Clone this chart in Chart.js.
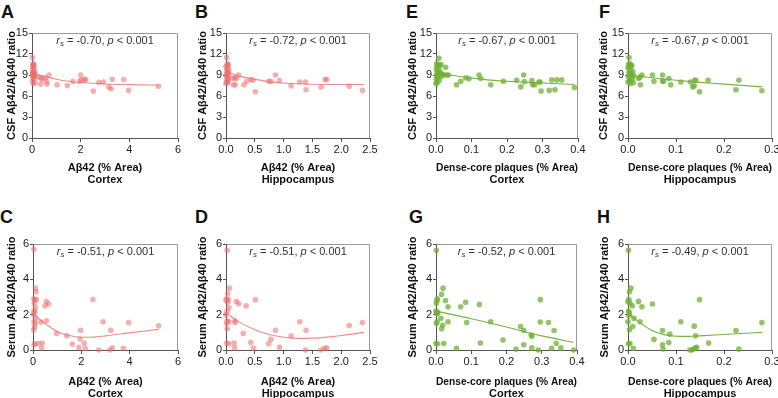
<!DOCTYPE html>
<html>
<head>
<meta charset="utf-8">
<script src="https://cdn.jsdelivr.net/npm/chart.js@4.4.0/dist/chart.umd.min.js"></script>
<style>
  body { margin: 0; background: #fff; }
  #fig { position: relative; width: 778px; height: 398px; overflow: hidden; font-family: "Liberation Sans", Arial, sans-serif; }
  #fig canvas { position: absolute; }
  .tag { position: absolute; font-weight: bold; font-size: 18px; line-height: 18px; color: #111; }
</style>
</head>
<body>
<div id="fig"></div>
<script>
// ---- data ----
const xA = [0.02,0.05,0.03,0.06,0.08,0.04,0.10,0.02,0.07,0.12,0.05,0.03,0.09,0.01,0.06,0.11,0.04,0.08,0.02,0.13,0.05,
  0.25,0.38,0.41,0.36,0.55,0.59,0.62,0.70,1.03,1.45,1.68,1.96,2.00,2.03,2.16,2.20,2.52,2.75,2.93,3.16,3.25,3.30,3.77,3.97,5.20];
const yA = [11.5,10.6,10.4,10.3,10.5,10.1,9.9,9.7,9.5,9.4,9.3,9.2,9.1,9.0,8.9,8.8,8.7,8.5,8.2,7.9,7.8,
  8.7,8.6,8.4,7.7,8.6,8.1,7.7,9.0,7.6,7.5,8.1,8.1,9.0,8.3,8.35,8.35,6.7,7.95,8.0,7.3,7.0,8.4,8.35,6.8,7.4];
const fitXA = [0, 0.25, 0.5, 1, 1.5, 2, 3, 4, 5.2];
const fitYA = [9.35, 9.05, 8.8, 8.4, 8.1, 7.92, 7.72, 7.62, 7.56];

const xB = [0.01,0.03,0.02,0.04,0.00,0.02,0.05,0.01,0.03,0.04,0.02,0.00,0.05,0.01,0.03,0.02,0.04,0.01,0.03,0.00,
  0.15,0.18,0.13,0.16,0.22,0.12,0.31,0.36,0.43,0.47,0.51,0.74,0.78,0.86,0.93,1.13,1.28,1.38,1.39,1.65,1.72,1.75,2.14,2.37];
const yB = [11.5,10.6,10.5,10.4,10.2,10.0,9.8,9.6,9.4,9.3,9.1,9.0,8.9,8.8,8.6,8.4,8.2,8.0,7.9,7.8,
  8.6,8.5,7.6,7.6,9.0,8.5,7.6,8.1,8.35,8.25,6.6,8.1,8.1,9.0,8.2,7.45,8.0,8.0,6.9,7.25,8.35,8.35,7.4,6.8];
const fitXB = [0, 0.1, 0.25, 0.5, 0.75, 1, 1.5, 2, 2.4];
const fitYB = [9.8, 9.2, 8.8, 8.4, 8.05, 7.85, 7.68, 7.65, 7.65];

const xE = [0.008,0.002,0.006,0.011,0.014,0.004,0.001,0.009,0.003,0.012,0.005,0.018,0.002,0.007,0.015,0.004,0.001,0.009,0.003,0.000,0.027,0.022,0.030,0.035,
  0.058,0.070,0.084,0.093,0.121,0.126,0.154,0.190,0.227,0.239,0.247,0.249,0.270,0.272,0.278,0.290,0.293,0.296,0.319,0.326,0.335,0.340,0.354,0.390];
const yE = [11.4,10.6,10.5,10.4,10.5,10.2,9.9,9.7,9.5,9.3,9.2,9.1,9.0,8.9,8.8,8.6,8.4,8.2,7.9,7.8,10.1,9.0,9.0,9.0,
  7.6,8.1,8.6,8.45,9.0,8.5,7.6,8.1,8.25,7.3,9.0,8.05,8.2,7.6,7.6,8.0,8.0,6.7,6.8,8.3,6.9,8.3,8.3,7.2];
const fitXE = [0, 0.04, 0.1, 0.2, 0.3, 0.39];
const fitYE = [9.35, 9.0, 8.55, 8.1, 7.85, 7.65];

const xF = [0.002,0.004,0.001,0.006,0.003,0.008,0.000,0.005,0.010,0.002,0.007,0.004,0.012,0.001,0.006,0.009,0.003,0.000,0.011,0.005,
  0.022,0.025,0.026,0.029,0.051,0.054,0.072,0.072,0.074,0.085,0.089,0.110,0.130,0.135,0.138,0.139,0.141,0.149,0.167,0.225,0.231,0.279];
const yF = [11.5,10.6,10.5,10.4,10.2,10.3,10.0,9.7,9.5,9.3,9.1,9.0,8.9,8.8,8.6,8.4,8.2,8.0,7.9,7.8,
  8.5,8.7,7.6,9.0,9.0,8.1,9.0,8.15,8.1,8.5,7.6,8.0,8.0,7.3,7.45,8.25,8.25,6.6,8.25,6.9,8.25,6.75];
const fitXF = [0, 0.05, 0.1, 0.15, 0.2, 0.28];
const fitYF = [9.0, 8.6, 8.25, 7.95, 7.7, 7.3];

const xC = [0.04,0.10,0.12,0.03,0.08,0.14,0.05,0.10,0.04,0.07,0.02,0.11,0.04,0.10,0.06,0.03,0.08,0.04,
  0.22,0.36,0.38,0.33,0.50,0.55,0.65,0.56,0.98,1.40,1.63,1.90,1.95,1.97,2.12,2.16,2.48,2.72,2.90,3.18,3.22,3.28,3.74,3.96,5.20];
const yC = [5.7,3.5,3.3,2.9,2.85,2.85,2.65,2.4,2.2,2.15,2.0,1.8,1.6,1.5,1.3,1.15,0.35,0.3,
  0.37,0.13,0.4,1.58,2.5,2.75,2.6,1.65,0.93,0.8,0.34,0.14,0.62,1.12,0.38,0.08,2.86,0.0,1.6,0.0,1.12,0.13,0.09,1.56,1.37];
const fitXC = [0, 0.3, 0.6, 1, 1.5, 2, 2.5, 3, 4, 5.2];
const fitYC = [2.1, 1.7, 1.4, 1.05, 0.82, 0.72, 0.73, 0.8, 0.97, 1.17];

const xD = [0.02,0.06,0.03,0.01,0.04,0.00,0.03,0.05,0.02,0.00,0.02,0.05,0.01,0.02,0.01,0.05,
  0.14,0.15,0.15,0.16,0.18,0.22,0.30,0.35,0.43,0.48,0.51,0.74,0.78,0.86,0.93,1.13,1.28,1.38,1.39,1.65,1.71,1.75,2.14,2.37];
const yD = [5.65,3.5,3.2,2.9,2.85,2.8,2.7,2.4,2.2,2.0,1.65,1.6,1.5,1.2,0.4,0.35,
  0.4,0.12,1.65,1.55,2.75,2.62,0.95,2.5,0.42,0.1,2.85,0.35,0.6,1.12,0.15,0.8,1.6,0.0,1.12,0.0,0.1,0.12,1.38,1.56];
const fitXD = [0, 0.25, 0.5, 0.75, 1, 1.25, 1.5, 1.75, 2, 2.4];
const fitYD = [2.1, 1.55, 1.15, 0.88, 0.72, 0.66, 0.67, 0.73, 0.82, 1.0];

const xG = [0.001,0.004,0.003,0.001,0.000,0.003,0.005,0.002,0.003,0.001,0.000,0.004,
  0.016,0.020,0.014,0.019,0.016,0.022,0.027,0.034,0.034,0.058,0.070,0.084,0.087,0.123,0.126,0.155,0.190,0.227,0.240,0.249,0.249,
  0.270,0.272,0.272,0.290,0.296,0.296,0.319,0.328,0.335,0.341,0.354,0.390];
const yG = [5.65,2.9,2.8,2.65,2.2,2.15,2.1,2.05,1.6,1.5,0.37,0.35,
  3.15,3.5,1.8,1.4,1.2,0.37,2.8,2.45,1.6,0.1,2.45,2.7,1.55,2.58,0.4,1.6,0.57,0.05,1.33,1.1,0.3,
  0.85,0.78,0.12,0.0,2.85,1.58,1.56,0.1,1.1,0.38,0.12,0.0];
const fitXG = [0, 0.1, 0.2, 0.3, 0.39];
const fitYG = [2.2, 1.77, 1.3, 0.8, 0.44];

const xH = [0.001,0.003,0.002,0.000,0.004,0.001,0.003,0.002,0.000,0.003,0.001,0.004,
  0.006,0.009,0.0125,0.010,0.011,0.022,0.029,0.025,0.051,0.054,0.072,0.072,0.073,0.087,0.085,0.110,
  0.129,0.133,0.136,0.138,0.141,0.141,0.143,0.149,0.168,0.225,0.231,0.279];
const yH = [5.65,3.3,2.85,2.75,2.65,2.2,2.1,1.95,1.6,1.15,0.35,0.37,
  3.5,2.5,1.8,1.33,0.1,2.75,2.45,1.6,2.6,0.6,1.1,0.3,0.06,0.9,0.42,1.6,
  0.0,0.0,0.05,1.35,0.8,0.12,0.15,2.85,0.4,1.1,0.05,1.55];
const fitXH = [0, 0.015, 0.03, 0.05, 0.075, 0.1, 0.125, 0.15, 0.2, 0.28];
const fitYH = [2.1, 1.75, 1.45, 1.1, 0.87, 0.78, 0.77, 0.8, 0.88, 1.0];

// tick labels
const xTicksCortexAb = ["0", "2", "4", "6"];
const xTicksHippoAb = ["0.0", "0.5", "1.0", "1.5", "2.0", "2.5"];
const xTicksCortexDc = ["0.0", "0.1", "0.2", "0.3", "0.4"];
const xTicksHippoDc = ["0.0", "0.1", "0.2", "0.3"];
const yTicksCsf = ["0", "3", "6", "9", "12", "15"];
const yTicksSerum = ["0", "2", "4", "6"];

const rsValues = { A: "-0.70", B: "-0.72", E: "-0.67", F: "-0.67", C: "-0.51", D: "-0.51", G: "-0.52", H: "-0.49" };

// ---- styling ----
const RED = { dot: "rgba(236,110,110,0.55)", line: "rgba(236,110,110,0.8)" };
const GREEN = { dot: "rgba(112,176,52,0.75)", line: "rgba(112,176,52,0.95)" };
const FONT = "'Liberation Sans', Arial, sans-serif";
const AXIS = "#555";

const csfTitle = "CSF A\u03b242/A\u03b240 ratio";
const serumTitle = "Serum A\u03b242/A\u03b240 ratio";
const abTitle = "A\u03b242 (% Area)";
const dcTitle = "Dense-core plaques (% Area)";

const panels = [
  { id: "A", x: xA, y: yA, fx: fitXA, fy: fitYA, xt: xTicksCortexAb, yt: yTicksCsf, xTitle: [abTitle, "Cortex"], yTitle: csfTitle, col: RED,
    plot: { l: 32, t: 33, r: 178, b: 138 }, yTitleX: 12, xH: 48, tag: [1, 3] },
  { id: "B", x: xB, y: yB, fx: fitXB, fy: fitYB, xt: xTicksHippoAb, yt: yTicksCsf, xTitle: [abTitle, "Hippocampus"], yTitle: csfTitle, col: RED,
    plot: { l: 226, t: 33, r: 370, b: 138 }, yTitleX: 203, xH: 48, tag: [195, 3] },
  { id: "E", x: xE, y: yE, fx: fitXE, fy: fitYE, xt: xTicksCortexDc, yt: yTicksCsf, xTitle: [dcTitle, "Cortex"], yTitle: csfTitle, col: GREEN,
    plot: { l: 436, t: 33, r: 578, b: 138 }, yTitleX: 413, xH: 48, tag: [406, 3] },
  { id: "F", x: xF, y: yF, fx: fitXF, fy: fitYF, xt: xTicksHippoDc, yt: yTicksCsf, xTitle: [dcTitle, "Hippocampus"], yTitle: csfTitle, col: GREEN,
    plot: { l: 628, t: 33, r: 772, b: 138 }, yTitleX: 604, xH: 48, tag: [599, 3] },
  { id: "C", x: xC, y: yC, fx: fitXC, fy: fitYC, xt: xTicksCortexAb, yt: yTicksSerum, xTitle: [abTitle, "Cortex"], yTitle: serumTitle, col: RED,
    plot: { l: 33, t: 244, r: 178, b: 350 }, yTitleX: 12, xH: 50, tag: [0, 208] },
  { id: "D", x: xD, y: yD, fx: fitXD, fy: fitYD, xt: xTicksHippoAb, yt: yTicksSerum, xTitle: [abTitle, "Hippocampus"], yTitle: serumTitle, col: RED,
    plot: { l: 226, t: 244, r: 370, b: 350 }, yTitleX: 203, xH: 50, tag: [195, 208] },
  { id: "G", x: xG, y: yG, fx: fitXG, fy: fitYG, xt: xTicksCortexDc, yt: yTicksSerum, xTitle: [dcTitle, "Cortex"], yTitle: serumTitle, col: GREEN,
    plot: { l: 436, t: 244, r: 577, b: 350 }, yTitleX: 413, xH: 50, tag: [409, 208] },
  { id: "H", x: xH, y: yH, fx: fitXH, fy: fitYH, xt: xTicksHippoDc, yt: yTicksSerum, xTitle: [dcTitle, "Hippocampus"], yTitle: serumTitle, col: GREEN,
    plot: { l: 628, t: 244, r: 772, b: 350 }, yTitleX: 605, xH: 50, tag: [597, 208] },
];

// frame on top / right sides
const framePlugin = {
  id: "frame",
  beforeDatasetsDraw(chart) {
    const { ctx, chartArea: a } = chart;
    ctx.save();
    ctx.strokeStyle = "#9a9a9a";
    ctx.lineWidth = 1;
    ctx.beginPath();
    ctx.moveTo(Math.round(a.left) + 0.5, Math.round(a.top) + 0.5);
    ctx.lineTo(Math.round(a.right) - 0.5, Math.round(a.top) + 0.5);
    ctx.lineTo(Math.round(a.right) - 0.5, Math.round(a.bottom));
    ctx.stroke();
    ctx.restore();
  },
};

// "r_s = ..., p < 0.001" annotation
const statPlugin = {
  id: "stat",
  afterDatasetsDraw(chart, args, opts) {
    const { ctx, chartArea: a } = chart;
    const parts = [
      { t: "r", f: "italic 11px " + FONT, dy: 0 },
      { t: "s", f: "italic 8px " + FONT, dy: 3 },
      { t: " = " + opts.rs + ", ", f: "11px " + FONT, dy: 0 },
      { t: "p", f: "italic 11px " + FONT, dy: 0 },
      { t: " < 0.001", f: "11px " + FONT, dy: 0 },
    ];
    ctx.save();
    let w = 0;
    parts.forEach(p => { ctx.font = p.f; p.w = ctx.measureText(p.t).width; w += p.w; });
    let x = (a.left + a.right) / 2 - w / 2;
    const y = a.top + 8;
    ctx.fillStyle = "#333";
    ctx.textBaseline = "middle";
    ctx.textAlign = "left";
    parts.forEach(p => { ctx.font = p.f; ctx.fillText(p.t, x, y + p.dy); x += p.w; });
    ctx.restore();
  },
};

const fig = document.getElementById("fig");

function makePanel(p) {
  const left = p.yTitleX - 7;
  const yW = p.plot.l - left;
  const top = p.plot.t - 10;
  const padR = 12;
  const width = p.plot.r + padR - left;
  const height = 10 + (p.plot.b - p.plot.t) + p.xH;

  const canvas = document.createElement("canvas");
  canvas.width = width;
  canvas.height = height;
  canvas.style.left = left + "px";
  canvas.style.top = top + "px";
  fig.appendChild(canvas);

  const tag = document.createElement("div");
  tag.className = "tag";
  tag.textContent = p.id;
  tag.style.left = p.tag[0] + "px";
  tag.style.top = p.tag[1] + "px";
  fig.appendChild(tag);

  const xVals = p.xt.map(Number);
  const yVals = p.yt.map(Number);
  const tickFont = { family: FONT, size: 11 };
  const titleFont = { family: FONT, size: 11, weight: "bold", lineHeight: 1.1 };

  new Chart(canvas, {
    type: "scatter",
    data: {
      datasets: [
        {
          data: p.x.map((v, i) => ({ x: v, y: p.y[i] })),
          backgroundColor: p.col.dot,
          borderWidth: 0,
          pointRadius: 2.8,
          clip: false,
        },
        {
          data: p.fx.map((v, i) => ({ x: v, y: p.fy[i] })),
          showLine: true,
          pointRadius: 0,
          borderColor: p.col.line,
          borderWidth: 1.1,
          cubicInterpolationMode: "monotone",
          fill: false,
        },
      ],
    },
    options: {
      responsive: false,
      animation: false,
      devicePixelRatio: 1,
      layout: { padding: { top: 10, right: padR, bottom: 0, left: 0 } },
      plugins: {
        legend: { display: false },
        tooltip: { enabled: false },
        stat: { rs: rsValues[p.id] },
      },
      scales: {
        x: {
          type: "linear",
          min: xVals[0],
          max: xVals[xVals.length - 1],
          afterBuildTicks: s => { s.ticks = xVals.map(v => ({ value: v })); },
          afterFit: s => { s.height = p.xH; },
          ticks: {
            autoSkip: false, maxRotation: 0, padding: 1, color: "#222", font: tickFont,
            callback: (v, i) => p.xt[i],
          },
          grid: { drawOnChartArea: false, tickLength: 4, color: AXIS },
          border: { color: AXIS, width: 1 },
          title: { display: true, text: p.xTitle, color: "#111", font: titleFont, padding: 0 },
        },
        y: {
          type: "linear",
          min: yVals[0],
          max: yVals[yVals.length - 1],
          afterBuildTicks: s => { s.ticks = yVals.map(v => ({ value: v })); },
          afterFit: s => { s.width = yW; },
          ticks: {
            autoSkip: false, padding: 1, color: "#222", font: tickFont,
            callback: (v, i) => p.yt[i],
          },
          grid: { drawOnChartArea: false, tickLength: 3, color: AXIS },
          border: { color: AXIS, width: 1 },
          title: { display: true, text: p.yTitle, color: "#111", font: { family: FONT, size: 11, weight: "bold", lineHeight: 1.2 }, padding: 0 },
        },
      },
    },
    plugins: [framePlugin, statPlugin],
  });
}

panels.forEach(makePanel);
</script>
</body>
</html>
